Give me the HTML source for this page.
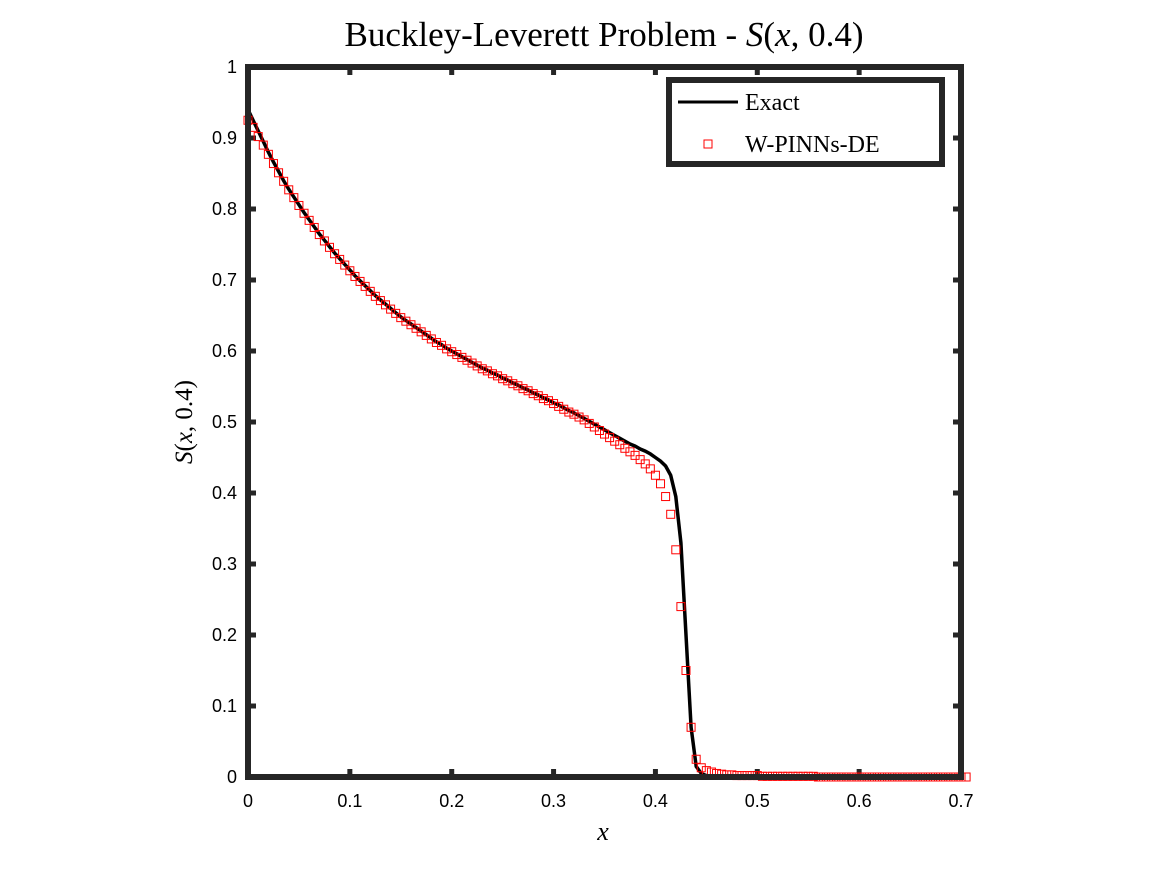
<!DOCTYPE html>
<html><head><meta charset="utf-8"><style>
body{margin:0;background:#fff;}
svg{display:block;}
</style></head><body>
<svg id="chart" width="1167" height="875" xmlns="http://www.w3.org/2000/svg">
<rect width="1167" height="875" fill="#fff"/>
<text x="604" y="46" text-anchor="middle" font-family="Liberation Serif, serif" font-size="35" fill="#000">Buckley-Leverett Problem - <tspan font-style="italic">S</tspan>(<tspan font-style="italic">x</tspan>, 0.4)</text>
<text x="603" y="840" text-anchor="middle" font-family="Liberation Serif, serif" font-style="italic" font-size="26" fill="#000">x</text>
<text transform="translate(192,422) rotate(-90)" text-anchor="middle" font-family="Liberation Serif, serif" font-size="25" fill="#000"><tspan font-style="italic">S</tspan>(<tspan font-style="italic">x</tspan>, 0.4)</text>
<g id="ticks"></g>
<g id="series"></g>
<rect x="248" y="67" width="713" height="710" fill="none" stroke="#262626" stroke-width="6"/>
<g>
<rect x="669" y="80" width="273" height="84" fill="#fff" stroke="#262626" stroke-width="6"/>
<line x1="678" y1="102" x2="738" y2="102" stroke="#000" stroke-width="3"/>
<text x="745" y="110" font-family="Liberation Serif, serif" font-size="24" fill="#000">Exact</text>
<rect x="704" y="140" width="8" height="8" fill="none" stroke="#ff0000" stroke-width="1"/>
<text x="745" y="152" font-family="Liberation Serif, serif" font-size="24" fill="#000">W-PINNs-DE</text>
</g>
</svg>
<script>
const xTicks=[0,0.1,0.2,0.3,0.4,0.5,0.6,0.7];
const xTickLabels=["0","0.1","0.2","0.3","0.4","0.5","0.6","0.7"];
const yTicks=[0,0.1,0.2,0.3,0.4,0.5,0.6,0.7,0.8,0.9,1];
const yTickLabels=["0","0.1","0.2","0.3","0.4","0.5","0.6","0.7","0.8","0.9","1"];
const xStep=0.005;
const exactS=[.94,.925,.91,.895,.88,.866,.853,.84,.828,.817,.806,.795,.785,.775,.765,.756,.747,.738,.73,.722,.714,.706,.699,.692,.685,.678,.672,.666,.66,.654,.648,.643,.638,.633,.628,.623,.618,.613,.609,.604,.6,.596,.592,.588,.584,.58,.576,.573,.569,.566,.562,.559,.555,.552,.548,.545,.541,.538,.534,.531,.527,.524,.52,.516,.513,.509,.505,.501,.497,.493,.489,.485,.481,.477,.473,.469,.466,.462,.459,.455,.45,.445,.438,.425,.395,.33,.2,.07,.015,.005,.002,0,0,0,0,0,0,0,0,0,0,0,0,0,0,0,0,0,0,0,0,0,0,0,0,0,0,0,0,0,0,0,0,0,0,0,0,0,0,0,0,0,0,0,0,0,0,0,0,0,0];
const predS=[.925,.915,.902,.89,.877,.864,.851,.839,.827,.816,.805,.794,.784,.774,.764,.755,.746,.737,.729,.721,.713,.705,.698,.691,.684,.677,.671,.665,.659,.653,.647,.642,.637,.632,.627,.622,.617,.612,.608,.603,.599,.595,.591,.587,.583,.579,.575,.572,.568,.565,.561,.558,.554,.551,.547,.544,.54,.537,.533,.53,.526,.522,.518,.514,.511,.507,.503,.498,.493,.488,.483,.478,.473,.468,.463,.458,.453,.447,.441,.434,.425,.413,.395,.37,.32,.24,.15,.07,.025,.013,.009,.007,.005,.004,.003,.003,.002,.002,.002,.002,.002,.001,.001,.001,.001,.001,.001,.001,.001,.001,.001,.001,0,0,0,0,0,0,0,0,0,0,0,0,0,0,0,0,0,0,0,0,0,0,0,0,0,0,0,0,0,0];
const X0=248,X1=961,Y0=777,Y1=67;
const xs=v=>X0+(v-0)/0.7*(X1-X0);
const ys=v=>Y0-v*(Y0-Y1);
const NS="http://www.w3.org/2000/svg";
const tg=document.getElementById('ticks');
const sg=document.getElementById('series');
xTicks.forEach((t,i)=>{
  const x=xs(t);
  [[Y0,Y0-8],[Y1,Y1+8]].forEach(p=>{
    const l=document.createElementNS(NS,'line');
    l.setAttribute('x1',x);l.setAttribute('x2',x);l.setAttribute('y1',p[0]);l.setAttribute('y2',p[1]);
    l.setAttribute('stroke','#262626');l.setAttribute('stroke-width','5');
    
    
    tg.appendChild(l);
  });
  const tx=document.createElementNS(NS,'text');
  tx.setAttribute('x',x);tx.setAttribute('y',807);tx.setAttribute('text-anchor','middle');
  tx.setAttribute('font-family','Liberation Sans, sans-serif');tx.setAttribute('font-size','18');
  tx.textContent=xTickLabels[i];
  
  
  tg.appendChild(tx);
});
yTicks.forEach((t,i)=>{
  const y=ys(t);
  [[X0,X0+8],[X1,X1-8]].forEach(p=>{
    const l=document.createElementNS(NS,'line');
    l.setAttribute('x1',p[0]);l.setAttribute('x2',p[1]);l.setAttribute('y1',y);l.setAttribute('y2',y);
    l.setAttribute('stroke','#262626');l.setAttribute('stroke-width','5');
    
    
    tg.appendChild(l);
  });
  const tx=document.createElementNS(NS,'text');
  tx.setAttribute('x',237);tx.setAttribute('y',y+6);tx.setAttribute('text-anchor','end');
  tx.setAttribute('font-family','Liberation Sans, sans-serif');tx.setAttribute('font-size','18');
  tx.textContent=yTickLabels[i];
  
  
  tg.appendChild(tx);
});
const pts=exactS.map((v,i)=>xs(i*xStep).toFixed(1)+','+ys(v).toFixed(1)).join(' ');
const pl=document.createElementNS(NS,'polyline');
pl.setAttribute('points',pts);pl.setAttribute('fill','none');pl.setAttribute('stroke','#000');pl.setAttribute('stroke-width','3.5');


sg.appendChild(pl);
predS.forEach((v,i)=>{
  const r=document.createElementNS(NS,'rect');
  r.setAttribute('x',xs(i*xStep)-4);r.setAttribute('y',ys(v)-4);r.setAttribute('width',8);r.setAttribute('height',8);
  r.setAttribute('fill','none');r.setAttribute('stroke','#ff0000');r.setAttribute('stroke-width','1');
  
  
  sg.appendChild(r);
});
</script>
</body></html>
